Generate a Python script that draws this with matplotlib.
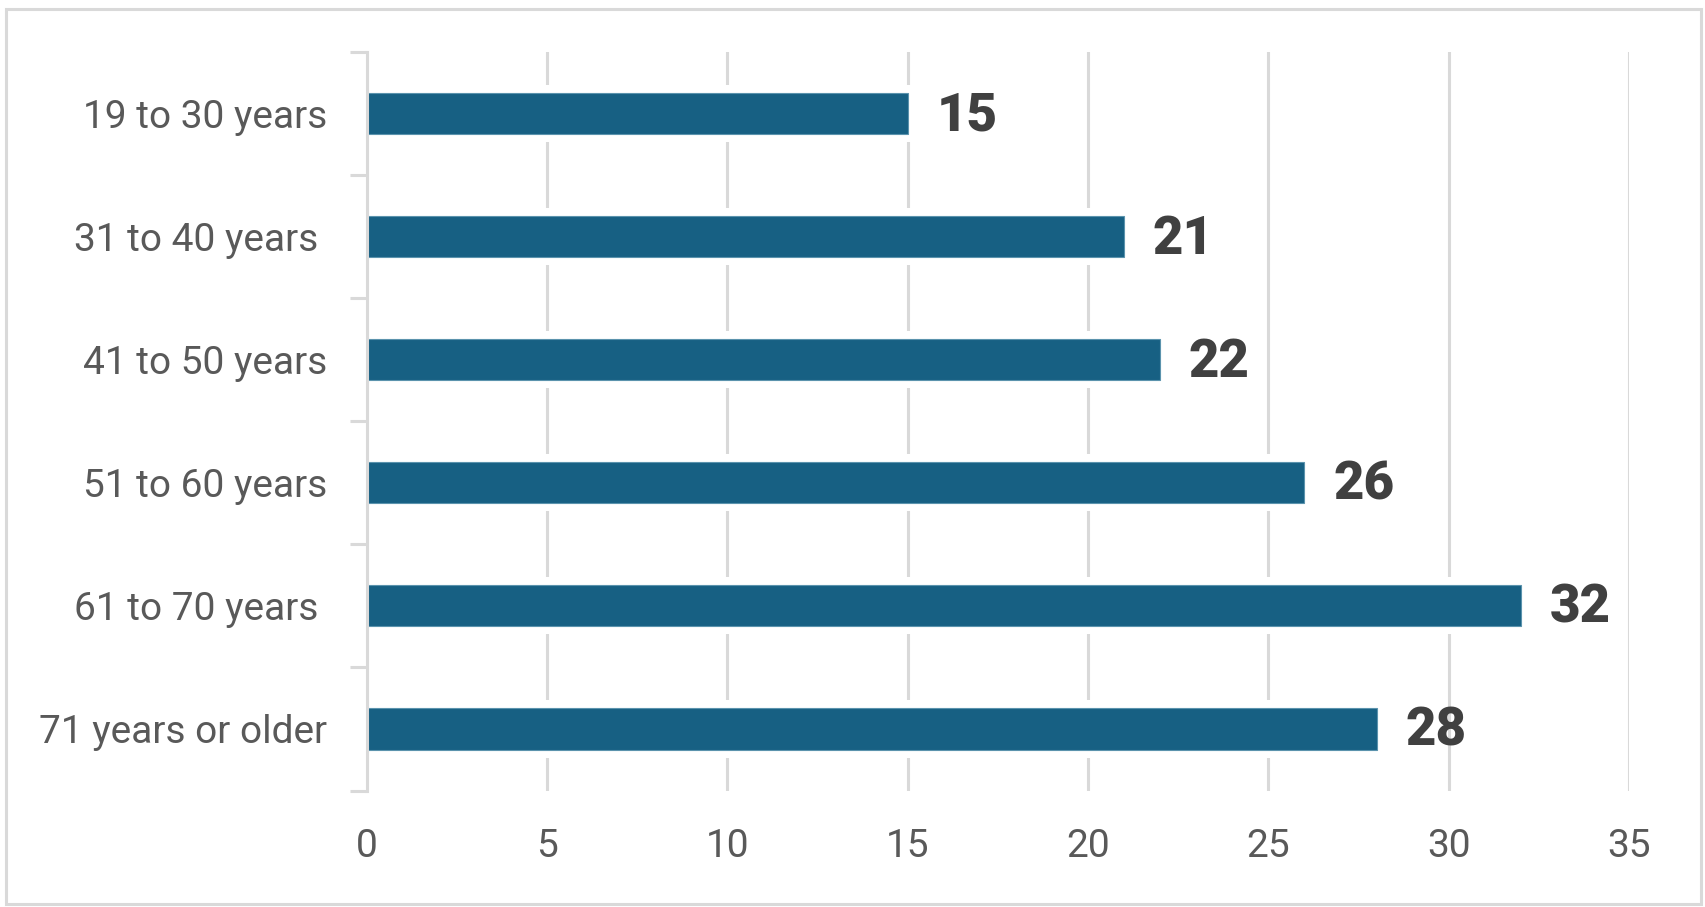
import matplotlib
matplotlib.use("Agg")
import matplotlib.pyplot as plt
from matplotlib.patches import Rectangle

categories = ["19 to 30 years", "31 to 40 years ", "41 to 50 years",
              "51 to 60 years", "61 to 70 years ", "71 years or older"]
values = [15, 21, 22, 26, 32, 28]
xticks = [0, 5, 10, 15, 20, 25, 30, 35]

W, H = 1705, 907
fig = plt.figure(figsize=(W / 100, H / 100), dpi=100)
plt.rcParams['font.family'] = ['Roboto', 'DejaVu Sans']

left, right = 366.5 / W, 1629 / W
top, bottom = 1 - 52 / H, 1 - 790.5 / H
ax = fig.add_axes([left, bottom, right - left, top - bottom])

ax.set_xlim(0, 35)
ax.set_ylim(len(categories) - 0.5, -0.5)

grid_c = '#d9d9d9'
for t in xticks[1:]:
    ax.axvline(t, color=grid_c, lw=2.2, zorder=0)

ypos = list(range(len(categories)))
bh = 0.335
# white halo behind bars to interrupt gridlines
ax.barh(ypos, [v + 0.25 for v in values], height=bh + 0.13, left=-0.1,
        color='white', zorder=1)
ax.barh(ypos, values, height=bh, color='#176083', edgecolor='#5b93ad',
        linewidth=0.8, zorder=2)

for y, v in zip(ypos, values):
    ax.text(v + 0.8, y + 0.02, str(v), va='center', ha='left',
            fontsize=38, fontweight='black', color='#404040', zorder=3)

for s in ['top', 'right', 'bottom']:
    ax.spines[s].set_visible(False)
ax.spines['left'].set_color(grid_c)
ax.spines['left'].set_linewidth(2.2)

ax.set_yticks([i - 0.5 for i in range(len(categories) + 1)], minor=False)
ax.set_yticklabels([])
ax.set_yticks(ypos, minor=True)
ax.set_yticklabels(categories, minor=True)
ax.tick_params(axis='y', which='major', length=12, width=2.2, color=grid_c)
ax.tick_params(axis='y', which='minor', length=0, pad=28,
               labelsize=28, labelcolor='#595959')

ax.set_xticks(xticks)
ax.set_xticklabels([str(t) for t in xticks])
ax.tick_params(axis='x', length=0, pad=27, labelsize=28, labelcolor='#595959')

fig.patches.append(Rectangle((5.5 / W, 3.5 / H), (1701 - 5.5) / W, (898 - 3.5) / H,
                             transform=fig.transFigure, fill=False,
                             edgecolor='#d9d9d9', linewidth=2.2))

fig.savefig('out.png', dpi=100, facecolor='white')
